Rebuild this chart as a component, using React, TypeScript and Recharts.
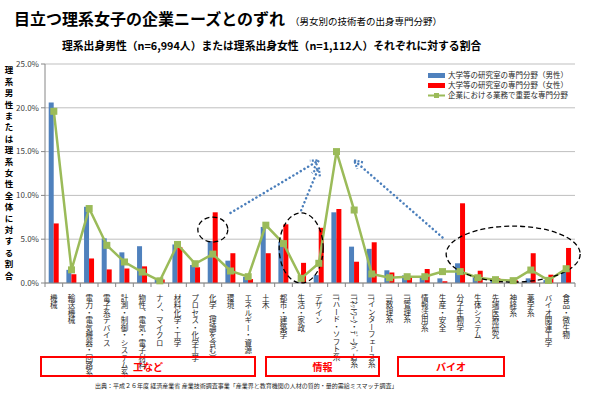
import {
  Bar,
  CartesianGrid,
  ComposedChart,
  Legend,
  Line,
  ReferenceDot,
  ReferenceLine,
  XAxis,
  YAxis,
} from "recharts";

// 専門分野 (x axis, left to right)
const categories = [
  "機械",
  "輸送機械",
  "電力・電気機器・回路系",
  "電子系デバイス",
  "計測・制御・システム系",
  "物性、電気・電子材料",
  "ナノ、マイクロ",
  "材料化学・工学",
  "プロセス・化学工学",
  "化学（理論を含む）",
  "環境",
  "エネルギー・資源",
  "土木",
  "都市・建築学",
  "生活・家政",
  "デザイン",
  "ITハード・ソフト系",
  "ITﾈｯﾄﾜｰｸ・ﾃﾞｰﾀﾍﾞｰｽ系",
  "ITインターフェース系",
  "IT数理系",
  "IT管理系",
  "情報活用系",
  "生産・安全",
  "分子生物学",
  "生体システム",
  "先端医療研究",
  "神経系",
  "薬学系",
  "バイオ関連工学",
  "食品・微生物",
];

// % of male / female science graduates, and share of companies' key fields
const maleShare = [
  20.6, 1.5, 8.7, 5.1, 3.5, 4.2, 0.4, 4.4, 2.05, 4.8, 2.55, 0.7, 6.4, 4.7, 0.1, 0.9, 8.07, 4.15, 3.9, 1.45,
  0.87, 0.65, 0.53, 2.25, 0.65, 0.27, 0.1, 0.53, 0.33, 1.3,
];
const femaleShare = [
  6.8, 1.0, 2.8, 1.55, 1.65, 1.9, 0.4, 4.1, 1.8, 8.07, 3.4, 0.45, 3.4, 6.7, 2.3, 6.3, 8.45, 2.43, 4.65, 1.2,
  0.72, 1.6, 0.2, 9.1, 1.4, 0.53, 0.3, 3.4, 0.95, 4.0,
];
const corpNeeds = [
  19.6, 1.5, 8.5, 4.3, 2.4, 1.25, 0.25, 4.4, 2.2, 3.3, 1.37, 0.72, 6.6, 4.5, 0.53, 2.25, 15.0, 8.33, 1.03, 0.6,
  0.72, 0.72, 1.3, 1.3, 0.6, 0.38, 0.27, 1.48, 0.3, 1.63,
];

const yTicks = [0, 5, 10, 15, 20, 25];

const seriesNames = [
  "大学等の研究室の専門分野（男性）",
  "大学等の研究室の専門分野（女性）",
  "企業における業務で重要な専門分野",
];

const groups = ["工など", "情報", "バイオ"];

const BLUE = "#4F81BD";
const RED = "#FF0000";
const GREEN = "#9BBB59";
const ARROW = "#4A7EBB";
const FONT = '"Noto Sans CJK JP", "Noto Sans", sans-serif';

const data = categories.map((name, i) => ({
  name,
  male: maleShare[i],
  female: femaleShare[i],
  corp: corpNeeds[i],
}));

// half a category band, for Excel-style ticks between categories
const HALF_BAND = 530 / categories.length / 2;

function XTick(props: any) {
  const { x, y, payload, index } = props;
  return (
    <g>
      <line x1={x - HALF_BAND} x2={x - HALF_BAND} y1={y} y2={y + 4} stroke="#868686" />
      {index === categories.length - 1 && (
        <line x1={x + HALF_BAND} x2={x + HALF_BAND} y1={y} y2={y + 4} stroke="#868686" />
      )}
      <text
        x={x}
        y={y + 11}
        fontSize={7.5}
        fill="#262626"
        fontFamily={FONT}
        style={{ writingMode: "vertical-rl" }}
      >
        {payload.value}
      </text>
    </g>
  );
}

function DashedEllipse(rx: number, ry: number) {
  return (p: any) => (
    <ellipse
      cx={p.cx}
      cy={p.cy}
      rx={rx}
      ry={ry}
      fill="none"
      stroke="#000"
      strokeWidth={1.3}
      strokeDasharray="5 3"
    />
  );
}

function DottedArrow(p: any) {
  const { x1, y1, x2, y2 } = p;
  const ang = Math.atan2(y2 - y1, x2 - x1);
  const len = 9;
  const ax = x2 - len * Math.cos(ang - 0.5);
  const ay = y2 - len * Math.sin(ang - 0.5);
  const bx = x2 - len * Math.cos(ang + 0.5);
  const by = y2 - len * Math.sin(ang + 0.5);
  return (
    <g>
      <line
        x1={x1}
        y1={y1}
        x2={x2}
        y2={y2}
        stroke={ARROW}
        strokeWidth={2.5}
        strokeDasharray="0.1 4.2"
        strokeLinecap="round"
      />
      <polyline
        points={`${ax},${ay} ${x2},${y2} ${bx},${by}`}
        fill="none"
        stroke={ARROW}
        strokeWidth={2.2}
        strokeDasharray="2 1.5"
      />
    </g>
  );
}

function LegendBox() {
  const swatch = [
    <rect key="m" x={0} y={2} width={17} height={5} fill={BLUE} />,
    <rect key="f" x={0} y={2} width={17} height={5} fill={RED} />,
    <g key="c">
      <line x1={0} x2={17} y1={4.5} y2={4.5} stroke={GREEN} strokeWidth={2} />
      <rect x={6} y={2} width={5} height={5} fill={GREEN} />
    </g>,
  ];
  return (
    <div style={{ fontFamily: FONT, fontSize: 7.5, color: "#262626", lineHeight: "10px" }}>
      {seriesNames.map((s, i) => (
        <div key={s} style={{ display: "flex", alignItems: "center", height: 10 }}>
          <svg width={19} height={9} style={{ marginRight: 1 }}>
            {swatch[i]}
          </svg>
          <span>{s}</span>
        </div>
      ))}
    </div>
  );
}

const boxStyle = {
  position: "absolute" as const,
  top: 356,
  height: 17,
  border: "2px solid #FF0000",
  color: "#FF0000",
  fontWeight: 700,
  fontSize: 10,
  lineHeight: "17px",
  textAlign: "center" as const,
  fontFamily: FONT,
};

export default function App() {
  return (
    <div
      style={{
        position: "absolute",
        left: 0,
        top: 0,
        width: 600,
        height: 417,
        background: "#fff",
        fontFamily: FONT,
        overflow: "hidden",
      }}
    >
      <div style={{ position: "absolute", left: 14, top: 6, whiteSpace: "nowrap", color: "#000" }}>
        <span style={{ fontSize: 16, fontWeight: 700 }}>目立つ理系女子の企業ニーズとのずれ</span>
        <span style={{ fontSize: 9.5, marginLeft: 5 }}>（男女別の技術者の出身専門分野）</span>
      </div>
      <div
        style={{
          position: "absolute",
          left: 62,
          top: 37,
          fontSize: 10.8,
          fontWeight: 700,
          whiteSpace: "nowrap",
          color: "#000",
        }}
      >
        理系出身男性（n=6,994人）または理系出身女性（n=1,112人）それぞれに対する割合
      </div>
      <div
        style={{
          position: "absolute",
          left: 3,
          top: 66,
          writingMode: "vertical-rl",
          fontSize: 8.5,
          fontWeight: 700,
          letterSpacing: 2.9,
          color: "#000",
        }}
      >
        理系男性または理系女性全体に対する割合
      </div>

      <ComposedChart
        width={600}
        height={417}
        data={data}
        margin={{ top: 64, right: 25, bottom: 34, left: 8 }}
        barCategoryGap="21%"
        barGap={0}
      >
        <CartesianGrid vertical={false} stroke="#BFBFBF" />
        <XAxis
          dataKey="name"
          interval={0}
          height={100}
          tickSize={0}
          tickMargin={0}
          tick={<XTick />}
          axisLine={{ stroke: "#868686" }}
        />
        <YAxis
          width={37}
          domain={[0, 25]}
          ticks={yTicks}
          tickFormatter={(v: number) => `${v.toFixed(1)}%`}
          tick={{ fontSize: 8, fill: "#404040", fontFamily: FONT }}
          tickSize={4}
          tickMargin={2}
          tickLine={{ stroke: "#868686" }}
          axisLine={{ stroke: "#868686" }}
        />
        <Legend
          layout="horizontal"
          verticalAlign="middle"
          align="center"
          wrapperStyle={{ top: 70, left: 428, width: 150 }}
          content={() => <LegendBox />}
        />
        <Bar dataKey="male" name={seriesNames[0]} fill={BLUE} isAnimationActive={false} />
        <Bar dataKey="female" name={seriesNames[1]} fill={RED} isAnimationActive={false} />
        <Line
          dataKey="corp"
          name={seriesNames[2]}
          type="linear"
          stroke={GREEN}
          strokeWidth={2.5}
          dot={(p: any) => (
            <rect key={p.index} x={p.cx - 3.5} y={p.cy - 3.5} width={7} height={7} fill={GREEN} />
          )}
          isAnimationActive={false}
        />
        <ReferenceDot x="化学（理論を含む）" y={6.1} shape={DashedEllipse(15, 12.5)} />
        <ReferenceDot x="生活・家政" y={4.0} shape={DashedEllipse(22, 35)} />
        <ReferenceDot x="神経系" y={3.3} shape={DashedEllipse(67, 28)} />
        <ReferenceLine
          segment={[
            { x: "環境", y: 8.0 },
            { x: "デザイン", y: 14.0 },
          ]}
          shape={DottedArrow}
        />
        <ReferenceLine
          segment={[
            { x: "生活・家政", y: 8.3 },
            { x: "デザイン", y: 13.2 },
          ]}
          shape={DottedArrow}
        />
        <ReferenceLine
          segment={[
            { x: "生産・安全", y: 5.2 },
            { x: categories[17], y: 14.0 },
          ]}
          shape={DottedArrow}
        />
      </ComposedChart>

      <div style={{ ...boxStyle, left: 40, width: 212 }}>{groups[0]}</div>
      <div style={{ ...boxStyle, left: 265, width: 111 }}>{groups[1]}</div>
      <div style={{ ...boxStyle, left: 397, width: 104 }}>{groups[2]}</div>
      <div
        style={{
          position: "absolute",
          left: 95,
          top: 381,
          fontSize: 6,
          whiteSpace: "nowrap",
          color: "#262626",
        }}
      >
        出典：平成２６年度 経済産業省 産業技術調査事業「産業界と教育機関の人材の質的・量的需給ミスマッチ調査」
      </div>
    </div>
  );
}
